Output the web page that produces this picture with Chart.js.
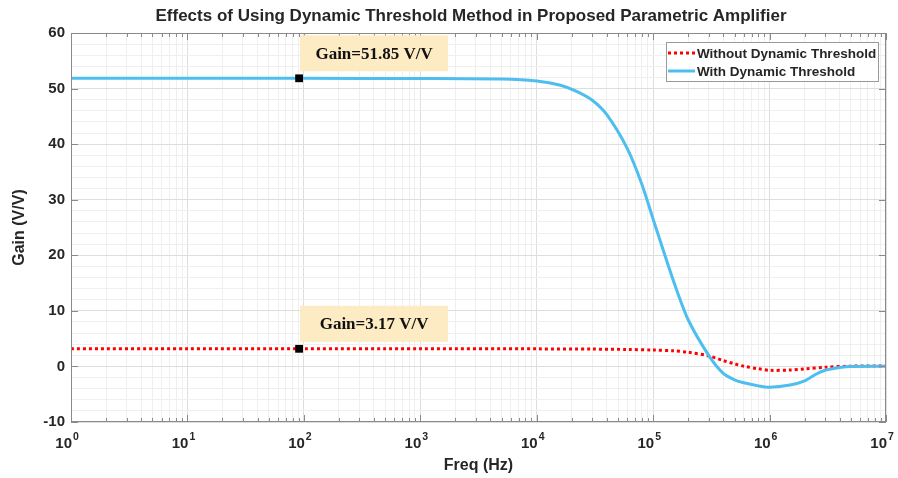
<!DOCTYPE html>
<html>
<head>
<meta charset="utf-8">
<title>Dynamic Threshold Gain</title>
<script src="https://cdn.jsdelivr.net/npm/chart.js@4.4.1/dist/chart.umd.min.js"></script>
<style>
html, body { margin: 0; padding: 0; background: #fff; }
#wrap { width: 898px; height: 478px; position: relative; }
</style>
</head>
<body>
<div id="wrap"><canvas id="gainChart"></canvas></div>
<script>
// Gain (V/V) against frequency (Hz), without the dynamic threshold
var freqWithout = [1, 10, 100, 1e3, 1e4, 3e4, 6e4, 1e5, 1.5e5, 2e5, 3e5, 4e5, 5e5, 6e5, 8e5, 1e6, 1.5e6, 2e6, 3e6, 5e6, 1e7];
var gainWithout = [3.17, 3.17, 3.17, 3.17, 3.16, 3.12, 3.05, 2.95, 2.8, 2.55, 1.9, 1.05, 0.47, 0.04, -0.42, -0.7, -0.65, -0.45, -0.15, 0.05, 0.1];

// ... and with the dynamic threshold
var freqWith = [1, 10, 100, 1e3, 5e3, 1e4, 1.6e4, 2.2e4, 3e4, 4e4, 6e4, 8e4, 1e5, 1.5e5, 2e5, 3e5, 4e5, 5e5, 6e5, 8e5, 1e6, 1.5e6, 2e6, 2.5e6, 3e6, 4e6, 5e6, 1e7];
var gainWith = [51.85, 51.85, 51.85, 51.8, 51.7, 51.35, 50.6, 49.5, 47.9, 45.3, 39.2, 32.8, 26.5, 15.3, 8.4, 2.0, -1.25, -2.4, -2.95, -3.5, -3.75, -3.35, -2.6, -1.4, -0.7, -0.2, 0, 0.05];

// data tips
var tipFreq = [91, 91];
var tipGain = [51.85, 3.17];

// axis ticks
var xExponents = [0, 1, 2, 3, 4, 5, 6, 7];
var yTicks = [-10, 0, 10, 20, 30, 40, 50, 60];

var seriesNames = ['Without Dynamic Threshold', 'With Dynamic Threshold'];
var RED = '#ff0000';
var BLUE = '#4dbeee';
var AXIS = '#262626';

function toPoints(xs, ys) {
    return xs.map(function (x, i) { return { x: x, y: ys[i] }; });
}

function isMajorX(v) {
    var e = Math.log10(v);
    return Math.abs(e - Math.round(e)) < 1e-9;
}

// annotations, legend, axis labels and inward tick marks
var decorations = {
    id: 'decorations',
    afterDraw: function (chart) {
        var ctx = chart.ctx;
        var area = chart.chartArea;
        var xs = chart.scales.x;
        var ys = chart.scales.y;
        ctx.save();

        // box
        ctx.strokeStyle = '#8a8a8a';
        ctx.lineWidth = 1;
        ctx.strokeRect(area.left + 0.5, area.top + 0.5, area.right - area.left - 1, area.bottom - area.top - 1);

        // tick marks pointing into the plot
        ctx.beginPath();
        xs.ticks.forEach(function (t) {
            var px = Math.round(xs.getPixelForValue(t.value)) + 0.5;
            var len = isMajorX(t.value) ? 7 : 4;
            ctx.moveTo(px, area.bottom); ctx.lineTo(px, area.bottom - len);
            ctx.moveTo(px, area.top); ctx.lineTo(px, area.top + len);
        });
        yTicks.forEach(function (v) {
            var py = Math.round(ys.getPixelForValue(v)) + 0.5;
            ctx.moveTo(area.left, py); ctx.lineTo(area.left + 7, py);
            ctx.moveTo(area.right, py); ctx.lineTo(area.right - 7, py);
        });
        ctx.stroke();

        // x tick labels 10^n
        ctx.fillStyle = AXIS;
        ctx.textBaseline = 'alphabetic';
        xExponents.forEach(function (e) {
            var px = xs.getPixelForValue(Math.pow(10, e));
            ctx.font = 'bold 15px "Liberation Sans", Arial, sans-serif';
            ctx.textAlign = 'right';
            ctx.fillText('10', px + 1, area.bottom + 26);
            ctx.font = 'bold 10.5px "Liberation Sans", Arial, sans-serif';
            ctx.textAlign = 'left';
            ctx.fillText(String(e), px + 2, area.bottom + 18);
        });

        // title and axis titles
        ctx.textAlign = 'center';
        ctx.textBaseline = 'middle';
        ctx.font = 'bold 17px "Liberation Sans", Arial, sans-serif';
        ctx.fillText('Effects of Using Dynamic Threshold Method in Proposed Parametric Amplifier', 471, 16);
        ctx.font = 'bold 16px "Liberation Sans", Arial, sans-serif';
        ctx.fillText('Freq (Hz)', (area.left + area.right) / 2, 466);
        ctx.save();
        ctx.translate(20, (area.top + area.bottom) / 2);
        ctx.rotate(-Math.PI / 2);
        ctx.fillText('Gain (V/V)', 0, 0);
        ctx.restore();

        // data tip boxes
        var tips = chart.data.datasets[2].data;
        tips.forEach(function (p) {
            var px = xs.getPixelForValue(p.x);
            var py = ys.getPixelForValue(p.y);
            var bw = 148, bh = 36;
            var bx = px + 1, by = py - 7 - bh;
            ctx.fillStyle = '#fdebc4';
            ctx.fillRect(bx, by, bw, bh);
            ctx.fillStyle = '#111';
            ctx.font = 'bold 17px "Liberation Serif", "Times New Roman", serif';
            ctx.textAlign = 'center';
            ctx.textBaseline = 'middle';
            ctx.fillText('Gain=' + p.y.toFixed(2) + ' V/V', bx + bw / 2, by + bh / 2 + 1);
        });

        // legend
        var lx = 666, ly = 42, lw = 212, lh = 39;
        ctx.fillStyle = '#fff';
        ctx.fillRect(lx, ly, lw, lh);
        ctx.strokeStyle = '#9a9a9a';
        ctx.lineWidth = 1;
        ctx.strokeRect(lx + 0.5, ly + 0.5, lw, lh);
        ctx.font = 'bold 13.5px "Liberation Sans", Arial, sans-serif';
        ctx.textAlign = 'left';
        ctx.textBaseline = 'middle';
        [0, 1].forEach(function (i) {
            var ds = chart.data.datasets[i];
            var cy = ly + 11 + i * 18;
            ctx.strokeStyle = ds.borderColor;
            ctx.lineWidth = 3;
            ctx.setLineDash(ds.borderDash || []);
            ctx.beginPath();
            ctx.moveTo(lx + 2, cy);
            ctx.lineTo(lx + 29, cy);
            ctx.stroke();
            ctx.setLineDash([]);
            ctx.fillStyle = AXIS;
            ctx.fillText(ds.label, lx + 31, cy + 1);
        });

        ctx.restore();
    }
};

var ctx = document.getElementById('gainChart').getContext('2d');
var gainChart = new Chart(ctx, {
    type: 'scatter',
    data: {
        datasets: [
            {
                label: seriesNames[0],
                data: toPoints(freqWithout, gainWithout),
                showLine: true,
                borderColor: RED,
                borderWidth: 3,
                borderDash: [3, 3],
                pointRadius: 0,
                tension: 0.3,
                order: 2
            },
            {
                label: seriesNames[1],
                data: toPoints(freqWith, gainWith),
                showLine: true,
                borderColor: BLUE,
                borderWidth: 3,
                pointRadius: 0,
                tension: 0.25,
                order: 1
            },
            {
                label: 'tips',
                data: toPoints(tipFreq, tipGain),
                pointStyle: 'rect',
                pointRadius: 5.5,
                backgroundColor: '#000',
                borderColor: '#000',
                borderWidth: 0,
                order: 0
            }
        ]
    },
    options: {
        responsive: true,
        maintainAspectRatio: false,
        animation: false,
        events: [],
        layout: { padding: { top: 33, right: 12, left: 0, bottom: 0 } },
        plugins: {
            legend: { display: false },
            tooltip: { enabled: false }
        },
        scales: {
            x: {
                type: 'logarithmic',
                min: 1,
                max: 1e7,
                afterBuildTicks: function (scale) {
                    var t = [];
                    for (var e = 0; e < 7; e++) {
                        for (var k = 1; k < 10; k++) t.push({ value: k * Math.pow(10, e) });
                    }
                    t.push({ value: 1e7 });
                    scale.ticks = t;
                },
                afterFit: function (scale) { scale.height = 56; },
                ticks: { display: false },
                border: { display: false },
                grid: {
                    drawTicks: false,
                    color: function (c) { return c.tick && isMajorX(c.tick.value) ? '#dedede' : '#efefef'; }
                }
            },
            y: {
                min: -10,
                max: 60,
                afterBuildTicks: function (scale) {
                    var t = [];
                    for (var v = -10; v <= 60; v += 2) t.push({ value: v });
                    scale.ticks = t;
                },
                afterFit: function (scale) { scale.width = 71; },
                ticks: {
                    autoSkip: false,
                    padding: 6,
                    color: AXIS,
                    font: { family: '"Liberation Sans", Arial, sans-serif', size: 15, weight: 'bold' },
                    callback: function (v) { return yTicks.indexOf(v) >= 0 ? String(v) : ''; }
                },
                border: { display: false },
                grid: {
                    drawTicks: false,
                    color: function (c) { return c.tick && c.tick.value % 10 === 0 ? '#dedede' : '#efefef'; }
                }
            }
        }
    },
    plugins: [decorations]
});
</script>
</body>
</html>
